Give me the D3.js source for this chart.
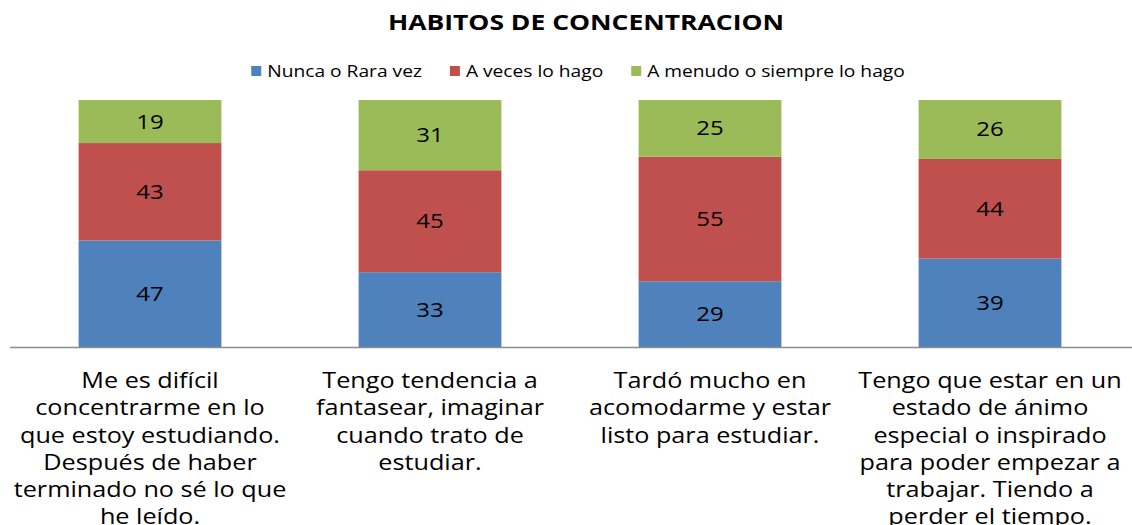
<!DOCTYPE html>
<html>
<head>
<meta charset="utf-8">
<script src="https://cdn.jsdelivr.net/npm/d3@7"></script>
<style>
  body { margin: 0; background: #fff; }
  svg { display: block; }
  text { fill: #000; }
</style>
</head>
<body>
<div class="container"></div>
<script>
var categories = [
    ['Me es difícil', 'concentrarme en lo', 'que estoy estudiando.', 'Después de haber', 'terminado no sé lo que', 'he leído.'],
    ['Tengo tendencia a', 'fantasear, imaginar', 'cuando trato de', 'estudiar.'],
    ['Tardó mucho en', 'acomodarme y estar', 'listo para estudiar.'],
    ['Tengo que estar en un', 'estado de ánimo', 'especial o inspirado', 'para poder empezar a', 'trabajar. Tiendo a', 'perder el tiempo.']
];
var seriesNames = ['Nunca o Rara vez', 'A veces lo hago', 'A menudo o siempre lo hago'];
var nunca = [47, 33, 29, 39];
var aVeces = [43, 45, 55, 44];
var aMenudo = [19, 31, 25, 26];
var colors = ['#4F81BD', '#C0504D', '#9BBB59'];

var translate = function (x, y) {
    return 'translate(' + x + ', ' + y + ')';
};

// the reference text looks stretched sideways
const SX = 1.2;

var visualize = function () {
    const WIDTH = 1132;
    const HEIGHT = 525;
    const BASE = 347;
    const TOP = 100;

    var rows = categories.map(function (c, i) {
        return {idx: i, s0: nunca[i], s1: aVeces[i], s2: aMenudo[i]};
    });
    var stacked = d3.stack().keys(['s0', 's1', 's2'])(rows);

    var xScale = d3.scaleBand().domain(d3.range(categories.length))
        .range([10, 1130]).paddingInner(0.49).paddingOuter(0.245);
    var yScale = d3.scaleLinear().domain([0, 109]).range([BASE, TOP]);

    var svg = d3.select('.container')
        .append('svg')
        .attr('width', WIDTH)
        .attr('height', HEIGHT);

    svg.append('text')
        .attr('x', 586).attr('y', 30)
        .attr('text-anchor', 'middle')
        .style('font-family', '"Open Sans", sans-serif')
        .style('font-weight', 'bold')
        .style('font-size', '22px')
        .attr('textLength', 396)
        .attr('lengthAdjust', 'spacingAndGlyphs')
        .text('HABITOS DE CONCENTRACION');

    // legend
    const GAP = 28;
    var legend = svg.append('g');
    var x = 0;
    seriesNames.forEach(function (name, i) {
        var item = legend.append('g').attr('transform', translate(x, 0));
        item.append('rect').attr('x', 0).attr('y', -5).attr('width', 10).attr('height', 10)
            .attr('fill', colors[i]);
        var t = item.append('text').attr('transform', translate(16, 5.5) + ' scale(' + SX + ',1)')
            .style('font-family', '"Open Sans", sans-serif')
            .style('font-size', '16px')
            .text(name);
        x += 16 + t.node().getComputedTextLength() * SX + GAP;
    });
    var legendW = x - GAP;
    legend.attr('transform', translate(578 - legendW / 2, 71));

    var layers = svg.selectAll('.layer')
        .data(stacked)
        .enter()
        .append('g')
        .attr('fill', function (d, i) { return colors[i]; });

    layers.selectAll('rect')
        .data(function (d) { return d; })
        .enter()
        .append('rect')
        .attr('x', function (d) { return xScale(d.data.idx); })
        .attr('width', xScale.bandwidth())
        .attr('y', function (d) { return yScale(d[1]); })
        .attr('height', function (d) { return yScale(d[0]) - yScale(d[1]); });

    layers.selectAll('text')
        .data(function (d) { return d; })
        .enter()
        .append('text')
        .attr('transform', function (d) {
            return translate(xScale(d.data.idx) + xScale.bandwidth() / 2, (yScale(d[0]) + yScale(d[1])) / 2) +
                ' scale(' + SX + ',1)';
        })
        .attr('dy', '0.35em')
        .attr('text-anchor', 'middle')
        .style('font-family', '"Open Sans", sans-serif')
        .style('font-size', '20px')
        .style('fill', '#000')
        .text(function (d) { return d[1] - d[0]; });

    // baseline
    svg.append('line')
        .attr('x1', 10).attr('x2', WIDTH)
        .attr('y1', BASE + 0.5).attr('y2', BASE + 0.5)
        .attr('stroke', '#8c8c8c').attr('stroke-width', 1.5);

    // category labels
    var labels = svg.selectAll('.cat')
        .data(categories)
        .enter()
        .append('text')
        .attr('class', 'cat')
        .attr('transform', function (d, i) {
            return translate(xScale(i) + xScale.bandwidth() / 2, 0) + ' scale(' + SX + ',1)';
        })
        .attr('text-anchor', 'middle')
        .style('font-family', '"Open Sans", sans-serif')
        .style('font-size', '21px');
    labels.selectAll('tspan')
        .data(function (d) { return d; })
        .enter()
        .append('tspan')
        .attr('x', 0)
        .attr('y', function (d, j) { return 388 + j * 27.3; })
        .text(function (d) { return d; });
};

window.onload = visualize;
</script>
</body>
</html>
